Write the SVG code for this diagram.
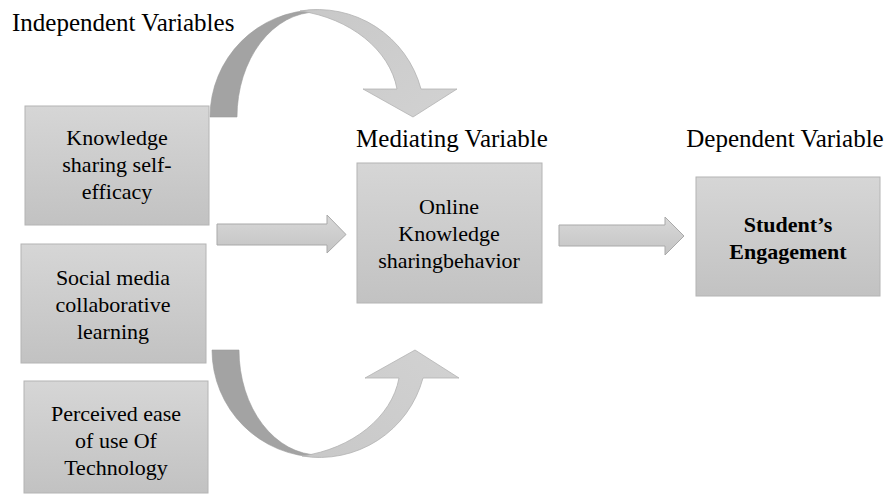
<svg xmlns="http://www.w3.org/2000/svg" width="896" height="495" viewBox="0 0 896 495">
<defs>
<linearGradient id="boxg" x1="0" y1="0" x2="0" y2="1">
<stop offset="0" stop-color="#d6d6d6"/>
<stop offset="1" stop-color="#c2c2c2"/>
</linearGradient>
<linearGradient id="arrg" x1="0" y1="0" x2="0" y2="1">
<stop offset="0" stop-color="#d8d8d8"/>
<stop offset="1" stop-color="#c4c4c4"/>
</linearGradient>
<linearGradient id="curvg" x1="0" y1="0" x2="1" y2="1">
<stop offset="0" stop-color="#c8c8c8"/>
<stop offset="1" stop-color="#d2d2d2"/>
</linearGradient>
</defs>
<style>
.box{fill:url(#boxg);stroke:#b4b4b4;stroke-width:1}
.t{font-family:"Liberation Serif","Times New Roman",serif;font-size:22px;fill:#000;text-anchor:middle}
.h{font-family:"Liberation Serif","Times New Roman",serif;font-size:25px;fill:#000}
.b{font-weight:bold}
.arr{fill:url(#arrg);stroke:#a9a9a9;stroke-width:1}
.dark{fill:#a3a3a3;stroke:#9a9a9a;stroke-width:0.6}
.light{fill:url(#curvg);stroke:#b3b3b3;stroke-width:0.8}
</style>
<g id="headings">
<text class="h" x="12" y="31">Independent Variables</text>
<text class="h" x="452" y="147" text-anchor="middle">Mediating Variable</text>
<text class="h" x="785" y="147" text-anchor="middle">Dependent Variable</text>
</g>
<g id="connectors">
<g id="curve-top">
<path class="dark" d="M210,117 A107,107 0 0 1 317,10 L317,12 A80,105 0 0 0 237,117 Z"/>
<path class="light" d="M300,11 A107,107 0 0 1 421,89 L457,89 L413,117 L363,89 L397,89 C390,50 350,18 300,11 Z"/>
</g>
<g id="curve-bottom" transform="matrix(1 0 0 -1 2 467)">
<path class="dark" d="M210,117 A107,107 0 0 1 317,10 L317,12 A80,105 0 0 0 237,117 Z"/>
<path class="light" d="M300,11 A107,107 0 0 1 421,89 L457,89 L413,117 L363,89 L397,89 C390,50 350,18 300,11 Z"/>
</g>
<path id="arrow1" class="arr" d="M217,224 L327,224 L327,215 L346,234.5 L327,253 L327,245 L217,245 Z"/>
<path id="arrow2" class="arr" d="M559,225 L665,225 L665,217 L684,236 L665,255 L665,246 L559,246 Z"/>
</g>
<g id="node-kss">
<rect class="box" x="25" y="106" width="184" height="119"/>
<text class="t" x="117" y="145">Knowledge</text>
<text class="t" x="117" y="172">sharing self-</text>
<text class="t" x="117" y="199">efficacy</text>
</g>
<g id="node-smcl">
<rect class="box" x="21" y="244" width="185" height="119"/>
<text class="t" x="113" y="285">Social media</text>
<text class="t" x="113" y="312">collaborative</text>
<text class="t" x="113" y="339">learning</text>
</g>
<g id="node-peou">
<rect class="box" x="24" y="381" width="184" height="112"/>
<text class="t" x="116" y="421">Perceived ease</text>
<text class="t" x="116" y="448">of use Of</text>
<text class="t" x="116" y="475">Technology</text>
</g>
<g id="node-oksb">
<rect class="box" x="357" y="163" width="185" height="140"/>
<text class="t" x="449" y="214">Online</text>
<text class="t" x="449" y="241">Knowledge</text>
<text class="t" x="449" y="268">sharingbehavior</text>
</g>
<g id="node-se">
<rect class="box" x="696" y="177" width="184" height="119"/>
<text class="t b" x="788" y="232">Student’s</text>
<text class="t b" x="788" y="259">Engagement</text>
</g>
</svg>
